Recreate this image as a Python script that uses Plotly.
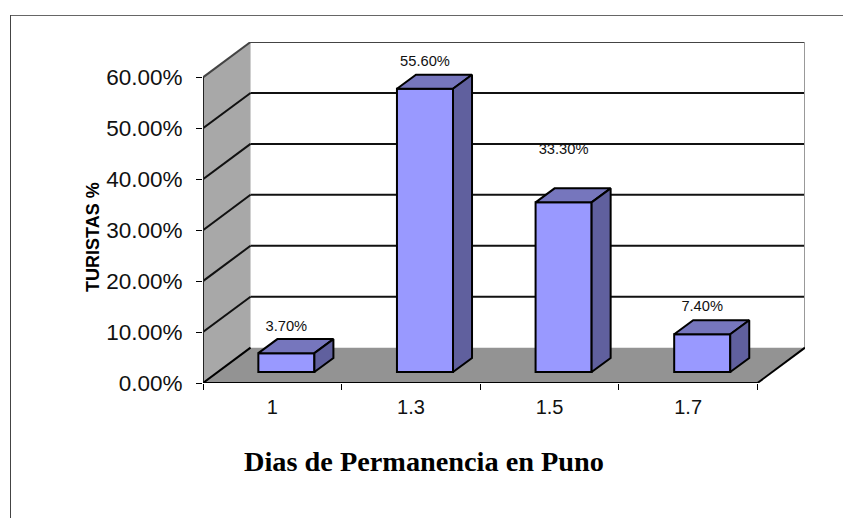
import plotly.graph_objects as go

# ---- data ----
categories = ["1", "1.3", "1.5", "1.7"]
turistas_pct = [3.7, 55.6, 33.3, 7.4]
y_tick_values = [0, 10, 20, 30, 40, 50, 60]
y_tick_labels = ["0.00%", "10.00%", "20.00%", "30.00%", "40.00%", "50.00%", "60.00%"]
label_lift = [5.0, 5.2, 10.2, 5.2]   # height of each value label above its bar, in %

# ---- geometry of the fake 3D box, in axis units ----
W, H = 843, 518
L, R, T, B = 203, 805, 42, 383        # plot area in px
UX = (757 - 203) / 4                  # px per category
UY = (383 - 78) / 60                  # px per percent
DX = 47.5 / UX                        # wall depth, x units
DY = 35.3 / UY                        # wall depth, y units
BAR_W = 56 / UX
BAR_X0 = 55.3 / UX                    # bar's left edge from the category start
BAR_BASE = 11 / UY                    # bar's floor rise
BAR_DX = 19 / UX
BAR_DY = 14 / UY
N = len(categories)
centers = [i + 0.5 for i in range(N)]

FRONT, TOP, SIDE = "#9999FF", "#7676BD", "#60609E"
WALL, FLOOR = "#A8A8A8", "#939393"
FONT = "Liberation Sans"


def poly(pts):
    return "M " + " L ".join(f"{x},{y}" for x, y in pts) + " Z"


def line(x0, y0, x1, y1, color="#000000", width=2):
    return dict(type="line", xref="x", yref="y", x0=x0, y0=y0, x1=x1, y1=y1,
                layer="below", line=dict(color=color, width=width))


shapes = [
    # side wall and floor
    dict(type="path", xref="x", yref="y", layer="below", line=dict(width=0), fillcolor=WALL,
         path=poly([(0, 0), (0, 60), (DX, 60 + DY), (DX, DY)])),
    dict(type="path", xref="x", yref="y", layer="below", line=dict(width=0), fillcolor=FLOOR,
         path=poly([(0, 0), (N, 0), (N + DX, DY), (DX, DY)])),
]
for v in y_tick_values[1:]:
    col = "#444444" if v == 60 else "#111111"
    shapes.append(line(0, v, DX, v + DY, col))
    shapes.append(line(DX, v + DY, N + DX, v + DY, col))
shapes += [
    line(N + DX, DY, N + DX, 60 + DY, "#999999"),
    line(0, 0, 0, 60, "#222222"),
    line(0, 0, DX, DY, "#000000"),
    line(0, 0, N, 0, "#000000"),
    line(N, 0, N + DX, DY, "#000000"),
    # outer frame of the chart
    dict(type="line", xref="paper", yref="paper", x0=(10 - L) / (R - L), x1=(843 - L) / (R - L),
         y0=(B - 15.5) / (B - T), y1=(B - 15.5) / (B - T), line=dict(color="#666666", width=1)),
    dict(type="line", xref="paper", yref="paper", x0=(10.5 - L) / (R - L), x1=(10.5 - L) / (R - L),
         y0=(B - 15) / (B - T), y1=(B - 518) / (B - T), line=dict(color="#444444", width=1)),
]

top_x, top_y, side_x, side_y = [], [], [], []
for i, v in enumerate(turistas_pct):
    x0 = i + BAR_X0
    x1 = x0 + BAR_W
    y0 = BAR_BASE
    y1 = BAR_BASE + v
    top_x += [x0, x0 + BAR_DX, x1 + BAR_DX, x1, x0, None]
    top_y += [y1, y1 + BAR_DY, y1 + BAR_DY, y1, y1, None]
    side_x += [x1, x1 + BAR_DX, x1 + BAR_DX, x1, x1, None]
    side_y += [y0, y0 + BAR_DY, y1 + BAR_DY, y1, y0, None]

fig = go.Figure()
fig.add_bar(
    x=[i + BAR_X0 for i in range(N)], y=turistas_pct, base=BAR_BASE, width=BAR_W, offset=0,
    marker=dict(color=FRONT, line=dict(color="#000000", width=2)),
    showlegend=False, hoverinfo="skip",
)
for xs, ys, color in ((top_x, top_y, TOP), (side_x, side_y, SIDE)):
    fig.add_scatter(x=xs, y=ys, mode="lines", fill="toself", fillcolor=color,
                    line=dict(color="#000000", width=2), showlegend=False, hoverinfo="skip")
fig.add_scatter(
    x=[c + BAR_X0 + BAR_W / 2 - 0.5 for c in centers],
    y=[BAR_BASE + v + lift for v, lift in zip(turistas_pct, label_lift)],
    mode="text", text=[f"{v:.2f}%" for v in turistas_pct],
    textfont=dict(family=FONT, size=14.7, color="#111111"),
    showlegend=False, hoverinfo="skip", cliponaxis=False,
)

fig.update_layout(
    width=W, height=H, autosize=False, showlegend=False,
    paper_bgcolor="#FFFFFF", plot_bgcolor="#FFFFFF",
    margin=dict(l=L, r=W - R, t=T, b=H - B, pad=0),
    font=dict(family=FONT, color="#000000"),
    shapes=shapes,
    xaxis=dict(
        range=[0, N + DX], showgrid=False, zeroline=False, showline=False,
        tickmode="array", tickvals=centers, ticktext=categories, ticks="",
        ticklabelstandoff=10,
        tickfont=dict(family=FONT, size=20, color="#111111"),
        minor=dict(tickmode="array", tickvals=list(range(N + 1)), ticks="outside",
                   ticklen=6, tickwidth=1, tickcolor="#000000", showgrid=False),
        automargin=False,
    ),
    yaxis=dict(
        range=[0, 60 + DY], showgrid=False, zeroline=False, showline=False,
        tickmode="array", tickvals=y_tick_values, ticktext=y_tick_labels,
        ticks="outside", ticklen=6, tickwidth=1, tickcolor="#000000",
        ticklabelstandoff=9,
        tickfont=dict(family=FONT, size=22.5, color="#111111"),
        automargin=False,
    ),
    annotations=[
        dict(text="<b>TURISTAS %</b>", xref="paper", yref="paper",
             x=(93 - L) / (R - L), y=(B - 237) / (B - T), showarrow=False, textangle=-90,
             xanchor="center", yanchor="middle",
             font=dict(family=FONT, size=18, color="#000000")),
        dict(text="<b>Dias de Permanencia en Puno</b>", xref="paper", yref="paper",
             x=(424 - L) / (R - L), y=(B - 461) / (B - T), showarrow=False,
             xanchor="center", yanchor="middle",
             font=dict(family="Liberation Serif", size=28.3, color="#000000")),
    ],
)
fig.write_html("out.html", config=dict(displayModeBar=False),
               post_script="document.body.style.margin='0';document.documentElement.style.overflow='hidden';")
